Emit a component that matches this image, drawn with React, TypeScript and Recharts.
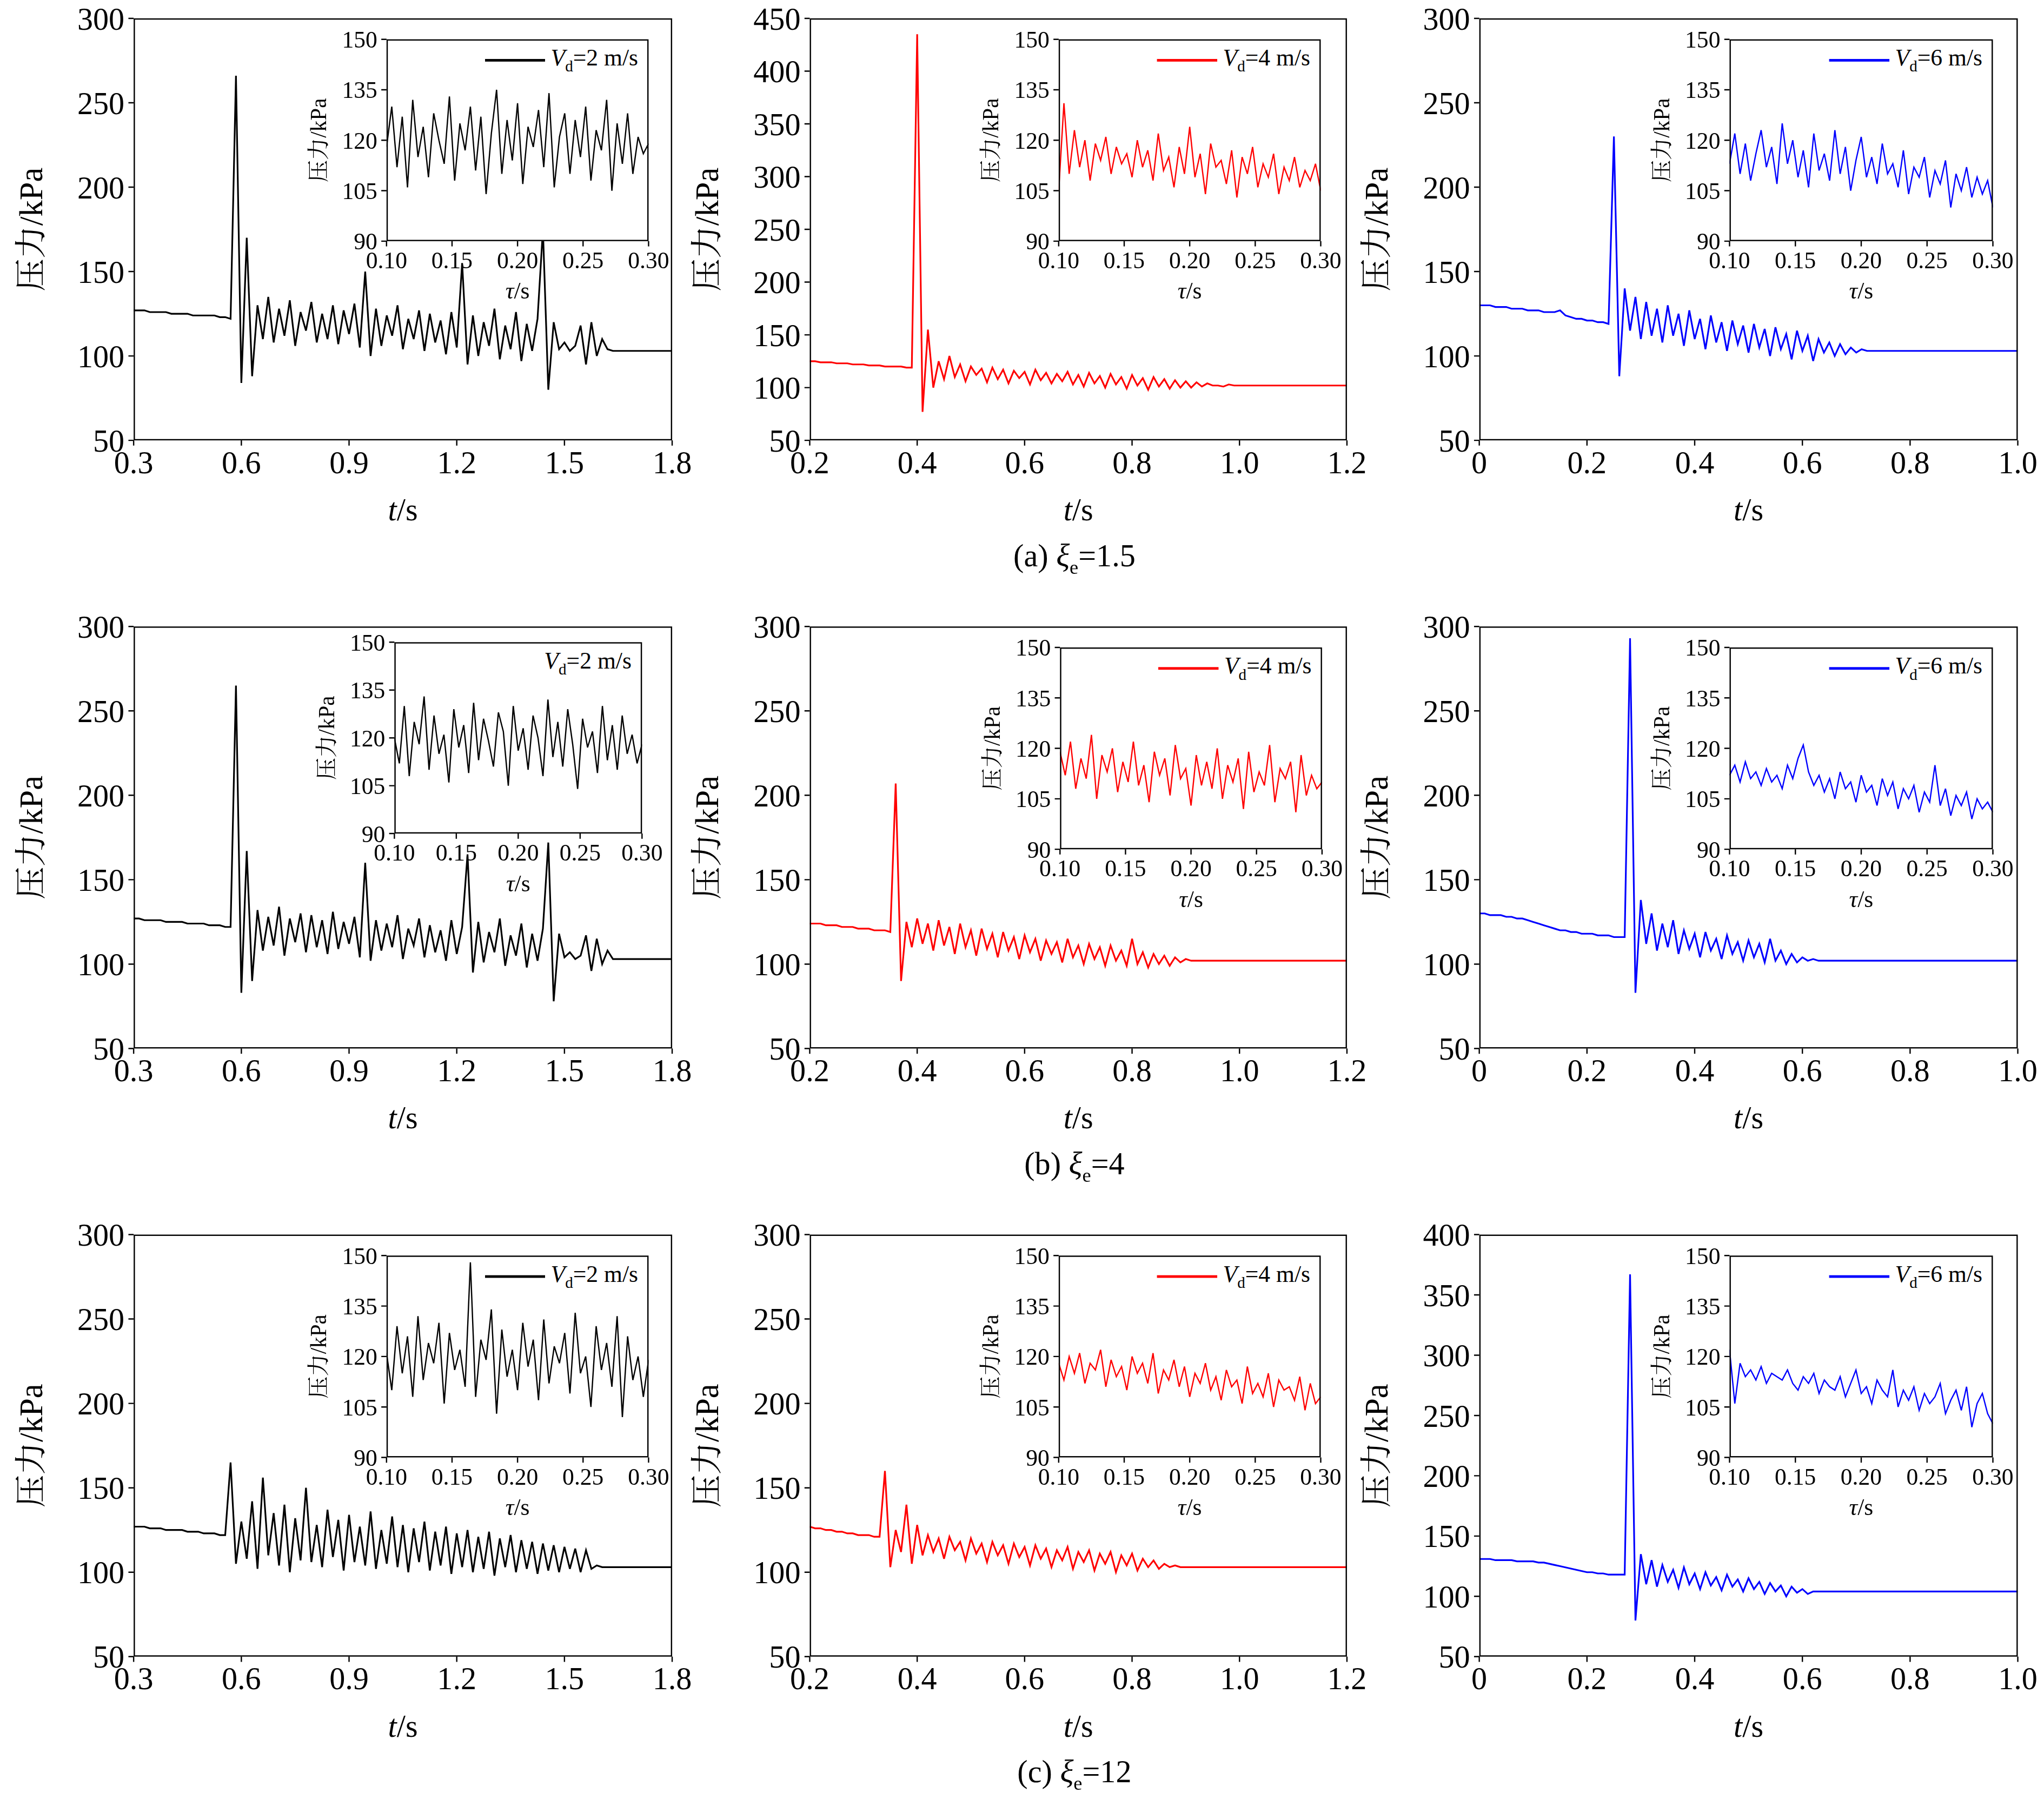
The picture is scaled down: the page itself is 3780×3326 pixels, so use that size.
import React from "react";
import { LineChart, Line, XAxis, YAxis } from "recharts";

// ---- main traces, uniform sampling ----
const a1 = [127,127,127,126,126,126,126,125,125,125,125,124,124,124,124,124,123,123,122,266,84,170,88,130,110,135,108,128,112,133,106,126,115,132,108,125,110,130,107,127,113,131,105,150,100,128,106,124,112,130,104,122,110,127,103,125,108,121,101,126,105,155,95,124,100,120,106,128,98,118,104,126,97,119,103,122,175,80,120,104,108,103,106,118,95,120,100,110,104,103,103,103,103,103,103,103,103,103,103,103,103];
const b1 = [125,125,124,124,124,123,123,123,122,122,122,121,121,121,120,120,120,120,119,119,435,77,155,100,125,108,130,110,122,106,120,112,118,105,119,108,117,104,116,109,115,103,117,107,114,104,113,106,115,103,112,101,114,104,111,100,113,103,110,99,112,102,109,98,110,101,108,99,107,100,106,100,105,101,104,102,102,101,103,102,102,102,102,102,102,102,102,102,102,102,102,102,102,102,102,102,102,102,102,102,102];
const c1 = [130,130,130,129,129,129,128,128,128,127,127,127,126,126,126,127,124,123,122,122,121,121,120,120,119,230,88,140,115,135,110,132,112,128,108,130,112,125,106,127,110,122,104,124,108,120,103,121,107,118,102,119,105,116,100,117,104,113,98,115,103,112,97,110,102,108,100,107,101,105,102,104,103,103,103,103,103,103,103,103,103,103,103,103,103,103,103,103,103,103,103,103,103,103,103,103,103,103,103,103,103];
const a2 = [127,127,126,126,126,126,125,125,125,125,124,124,124,124,123,123,123,122,122,265,83,167,90,132,108,128,111,134,105,127,113,130,107,129,110,126,106,131,109,125,112,128,104,160,102,126,108,124,110,129,103,121,111,127,104,123,107,120,102,126,106,122,165,95,125,101,119,107,127,99,117,105,124,98,118,102,121,172,78,118,104,107,103,105,117,96,115,100,108,103,103,103,103,103,103,103,103,103,103,103,103];
const b2 = [124,124,124,123,123,123,122,122,122,121,121,121,120,120,120,119,207,90,125,110,127,112,124,108,126,111,122,106,124,110,120,105,121,109,118,104,119,108,116,103,117,107,115,102,114,106,113,101,115,104,111,100,112,103,110,99,111,102,108,99,115,100,107,98,106,100,105,99,104,101,103,102,102,102,102,102,102,102,102,102,102,102,102,102,102,102,102,102,102,102,102,102,102,102,102,102,102,102,102,102,102];
const c2 = [130,130,129,129,129,128,128,127,127,126,125,124,123,122,121,120,120,119,119,118,118,118,117,117,117,116,116,116,293,83,138,112,130,108,124,110,126,106,120,109,118,104,119,108,115,103,117,106,113,102,114,104,112,101,115,102,108,100,106,101,104,102,103,102,102,102,102,102,102,102,102,102,102,102,102,102,102,102,102,102,102,102,102,102,102,102,102,102,102,102,102,102,102,102,102,102,102,102,102,102,102];
const a3 = [127,127,127,126,126,126,125,125,125,125,124,124,124,123,123,123,122,122,165,105,130,108,142,102,156,110,135,104,140,100,132,107,150,106,128,103,137,109,131,101,134,106,127,104,136,102,125,105,133,103,128,100,126,106,130,101,124,104,127,99,123,103,125,100,121,102,124,98,120,103,122,100,119,102,118,99,117,101,116,100,115,102,114,100,113,102,104,103,103,103,103,103,103,103,103,103,103,103,103,103,103];
const b3 = [127,126,126,125,125,124,124,123,123,122,122,122,121,121,160,103,125,112,140,105,128,110,122,112,120,108,121,113,118,107,120,111,117,106,118,110,116,105,117,109,115,104,116,108,114,103,113,107,115,102,112,106,113,101,111,105,112,100,110,104,111,101,108,103,107,102,105,103,104,103,103,103,103,103,103,103,103,103,103,103,103,103,103,103,103,103,103,103,103,103,103,103,103,103,103,103,103,103,103,103,103];
const c3 = [131,131,131,130,130,130,130,129,129,129,129,128,128,127,126,125,124,123,122,121,120,120,119,119,118,118,118,118,367,80,135,110,130,108,126,112,122,107,124,110,119,106,120,109,116,105,118,108,114,104,115,106,112,102,111,104,109,100,108,103,106,102,104,104,104,104,104,104,104,104,104,104,104,104,104,104,104,104,104,104,104,104,104,104,104,104,104,104,104,104,104,104,104,104,104,104,104,104,104,104,104];

// ---- inset traces, tau 0.10..0.30 ----
const ia1 = [118,130,112,127,106,132,115,124,109,128,120,113,133,108,125,117,130,111,127,104,122,135,110,126,114,131,107,124,118,129,112,134,106,121,128,110,126,115,130,108,123,117,132,105,125,113,128,110,121,116,119];
const ib1 = [105,131,110,123,112,120,108,119,114,121,110,118,113,116,109,120,112,117,108,122,111,115,106,118,110,124,109,116,104,119,112,114,107,117,103,115,110,118,106,113,109,116,104,112,108,115,106,111,108,113,105];
const ic1 = [113,122,110,119,108,116,123,112,118,107,125,113,120,109,117,106,122,111,116,108,123,110,118,105,114,121,109,115,107,119,110,113,106,117,104,112,109,115,103,111,107,114,100,110,105,112,103,109,104,108,100];
const ia2 = [120,112,130,108,125,118,133,110,127,115,121,106,129,117,124,109,131,113,126,119,111,128,122,105,130,116,123,110,127,120,108,132,114,125,111,129,118,104,126,117,122,109,130,113,124,110,127,115,121,112,118];
const ib2 = [119,112,122,108,117,111,124,105,118,113,120,107,116,110,122,109,115,104,119,112,117,106,121,111,114,103,118,109,116,108,120,105,115,110,117,102,119,107,113,109,121,104,114,111,116,101,118,106,112,108,110];
const ic2 = [112,115,110,116,111,113,109,114,110,112,108,115,111,117,121,113,109,112,107,111,105,113,108,110,104,112,107,109,103,111,106,110,102,108,105,109,101,107,104,115,103,108,100,106,103,107,99,105,102,104,101];
const ia3 = [121,110,129,115,126,108,132,113,124,118,130,106,127,116,122,111,148,108,125,119,134,103,128,114,122,110,130,117,125,107,131,112,123,118,127,109,133,115,120,105,129,116,124,111,132,102,126,113,120,108,119];
const ib3 = [118,113,120,115,121,112,118,116,122,111,119,114,117,110,120,115,118,112,121,109,116,113,119,111,117,108,115,112,118,110,114,107,116,111,113,106,117,109,112,108,115,105,113,110,111,107,114,104,112,106,108];
const ic3 = [122,106,118,114,116,113,117,112,115,114,113,116,112,110,114,112,115,109,113,111,110,114,108,112,116,109,111,106,113,110,108,116,105,110,107,111,104,109,106,108,112,103,107,110,104,111,99,106,109,103,100];

const ticksA = [0.3, 0.6, 0.9, 1.2, 1.5, 1.8];
const ticksB = [0.2, 0.4, 0.6, 0.8, 1.0, 1.2];
const ticksC = [0, 0.2, 0.4, 0.6, 0.8, 1.0];
const yTicks300 = [50, 100, 150, 200, 250, 300];
const yTicks400 = [50, 100, 150, 200, 250, 300, 350, 400];
const yTicks450 = [50, 100, 150, 200, 250, 300, 350, 400, 450];
const insetX = [0.1, 0.15, 0.2, 0.25, 0.3];
const insetY = [90, 105, 120, 135, 150];
const captions = ["(a) ", "(b) ", "(c) "];
const xiValues = ["1.5", "4", "12"];
const speeds = ["2", "4", "6"];
const colors = ["#000000", "#ff0000", "#0000ff"];

const SERIF = "'Liberation Serif', 'Times New Roman', serif";
const CJK = "'Liberation Serif', 'Noto Serif CJK SC', 'Noto Sans CJK SC', serif";
const S = 3780 / 1560;

const toData = (vals: number[], start: number, step: number) =>
  vals.map((p, i) => ({ t: +(start + i * step).toFixed(4), p }));

function Plot({ x, y, w, h, data, color, xDomain, xTicks, xFmt, yDomain, yTicks, fs, sw, L }: any) {
  const T = 20, R = 30, B = 40;
  return (
    <>
      <div style={{ position: "absolute", left: x, top: y, width: w, height: h, background: "#fff" }} />
      <div style={{ position: "absolute", left: x - L, top: y - T }}>
        <LineChart width={w + L + R} height={h + T + B} data={data} margin={{ top: T, right: R, left: 0, bottom: 0 }}>
          <XAxis dataKey="t" type="number" domain={xDomain} ticks={xTicks} tickFormatter={xFmt} allowDataOverflow
            axisLine={false} tickLine={{ stroke: "#000" }} tickSize={4} tickMargin={4} height={B}
            tick={{ fill: "#000", fontSize: fs, fontFamily: SERIF }} interval={0} />
          <YAxis type="number" domain={yDomain} ticks={yTicks} allowDataOverflow width={L}
            axisLine={false} tickLine={{ stroke: "#000" }} tickSize={4} tickMargin={3}
            tick={{ fill: "#000", fontSize: fs, fontFamily: SERIF }} interval={0} />
          <Line dataKey="p" stroke={color} strokeWidth={sw} dot={false} isAnimationActive={false} />
        </LineChart>
      </div>
      <div style={{ position: "absolute", left: x, top: y, width: w, height: h, border: "1.2px solid #000", boxSizing: "border-box", pointerEvents: "none" }} />
    </>
  );
}

const mains = [
  [toData(a1, 0.3, 0.015), toData(b1, 0.2, 0.01), toData(c1, 0, 0.01)],
  [toData(a2, 0.3, 0.015), toData(b2, 0.2, 0.01), toData(c2, 0, 0.01)],
  [toData(a3, 0.3, 0.015), toData(b3, 0.2, 0.01), toData(c3, 0, 0.01)],
];
const insets = [
  [ia1, ib1, ic1], [ia2, ib2, ic2], [ia3, ib3, ic3],
].map((r) => r.map((v) => toData(v, 0.1, 0.004)));

const colX = [[102, 513], [618, 1028], [1129, 1540]];
const rowY = [14, 478, 942];
const mainH = 322;
const insetPos = [
  [[295, 30, 200, 154], [808, 30, 200, 154], [1320, 30, 201, 154]],
  [[301, 490, 189, 146], [809, 494, 200, 154], [1320, 494, 201, 154]],
  [[295, 958, 200, 154], [808, 958, 200, 154], [1320, 958, 201, 154]],
];

function yCfg(r: number, c: number) {
  if (c === 1 && r === 0) return { d: [50, 450], t: yTicks450 };
  if (c === 2 && r === 2) return { d: [50, 400], t: yTicks400 };
  return { d: [50, 300], t: yTicks300 };
}

export default function App() {
  const xCfg = [
    { d: [0.3, 1.8], t: ticksA, f: (v: number) => v.toFixed(1) },
    { d: [0.2, 1.2], t: ticksB, f: (v: number) => v.toFixed(1) },
    { d: [0, 1.0], t: ticksC, f: (v: number) => (v === 0 ? "0" : v.toFixed(1)) },
  ];
  return (
    <div style={{ position: "absolute", left: 0, top: 0, width: 3780, height: 3326, background: "#fff", overflow: "hidden" }}>
      <div style={{ position: "absolute", left: 0, top: 0, width: 1560, height: 1373, transform: `scale(${S})`, transformOrigin: "0 0", fontFamily: SERIF }}>
        {[0, 1, 2].map((r) =>
          [0, 1, 2].map((c) => {
            const [x0, x1] = colX[c];
            const y0 = rowY[r];
            const yc = yCfg(r, c);
            const [ix, iy, iw, ih] = insetPos[r][c];
            return (
              <React.Fragment key={`${r}-${c}`}>
                <Plot x={x0} y={y0} w={x1 - x0} h={mainH} data={mains[r][c]} color={colors[c]}
                  xDomain={xCfg[c].d} xTicks={xCfg[c].t} xFmt={xCfg[c].f} yDomain={yc.d} yTicks={yc.t} fs={24} sw={1.3} L={70} />
                <div style={{ position: "absolute", left: x0 - 133, top: y0 + mainH / 2 - 15, width: 110, textAlign: "center", transform: "rotate(-90deg)", fontSize: 25, fontFamily: CJK, lineHeight: "30px" }}>
                  压力/kPa
                </div>
                <div style={{ position: "absolute", left: (x0 + x1) / 2 - 40, top: y0 + mainH + 40, width: 80, textAlign: "center", fontSize: 24 }}>
                  <i>t</i>/s
                </div>
                <Plot x={ix} y={iy} w={iw} h={ih} data={insets[r][c]} color={colors[c]}
                  xDomain={[0.1, 0.3]} xTicks={insetX} xFmt={(v: number) => v.toFixed(2)} yDomain={[90, 150]} yTicks={insetY} fs={18} sw={1} L={40} />
                <div style={{ position: "absolute", left: ix - 96, top: iy + ih / 2 - 11, width: 90, textAlign: "center", transform: "rotate(-90deg)", fontSize: 17, fontFamily: CJK, lineHeight: "22px" }}>
                  压力/kPa
                </div>
                <div style={{ position: "absolute", left: ix + iw / 2 - 30, top: iy + ih + 28, width: 60, textAlign: "center", fontSize: 18 }}>
                  <i>τ</i>/s
                </div>
                <div style={{ position: "absolute", right: 1560 - (ix + iw) + 8, top: iy + 4, fontSize: 18, display: "flex", alignItems: "center", background: "#fff" }}>
                  {!(r === 1 && c === 0) && <span style={{ display: "inline-block", width: 46, height: 0, borderTop: `2px solid ${colors[c]}`, marginRight: 4 }} />}
                  <span><i>V</i><sub style={{ fontSize: 12 }}>d</sub>={speeds[c]} m/s</span>
                </div>
              </React.Fragment>
            );
          })
        )}
        {[0, 1, 2].map((r) => (
          <div key={r} style={{ position: "absolute", left: 620, width: 400, top: rowY[r] + 396, textAlign: "center", fontSize: 24, lineHeight: "28px" }}>
            {captions[r]}<i>ξ</i><sub style={{ fontSize: 15 }}>e</sub>={xiValues[r]}
          </div>
        ))}
      </div>
    </div>
  );
}
